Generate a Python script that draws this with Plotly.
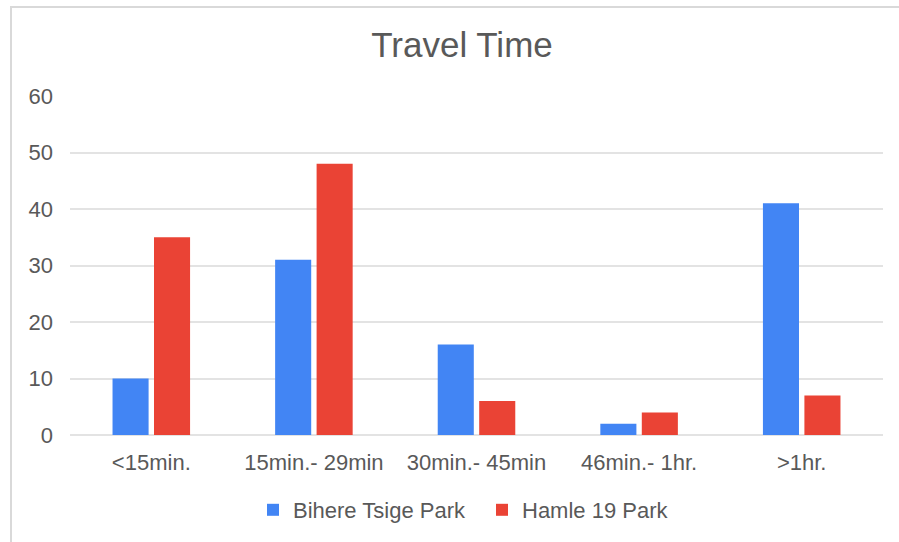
import plotly.graph_objects as go

categories = ["<15min.", "15min.- 29min", "30min.- 45min", "46min.- 1hr.", ">1hr."]
bihere_tsige = [10, 31, 16, 2, 41]
hamle_19 = [35, 48, 6, 4, 7]
y_ticks = [0, 10, 20, 30, 40, 50, 60]

W, H = 899, 542
L, R, T, B = 70, 16, 96, 107
pw, ph = W - L - R, H - T - B

def px_x(x):
    return (x - L) / pw

def px_y(y):
    return (H - B - y) / ph

txt = "#595959"
font = "Liberation Sans, Arial, sans-serif"

fig = go.Figure()
fig.add_trace(go.Bar(name="Bihere Tsige Park", x=categories, y=bihere_tsige,
                     marker=dict(color="#4285F4", line=dict(width=0))))
fig.add_trace(go.Bar(name="Hamle 19 Park", x=categories, y=hamle_19,
                     marker=dict(color="#EA4335", line=dict(width=0))))

fig.update_layout(
    width=W, height=H,
    margin=dict(l=L, r=R, t=T, b=B, autoexpand=False),
    paper_bgcolor="white", plot_bgcolor="white",
    barmode="group", bargap=0.49, bargroupgap=0.13,
    font=dict(family=font, color=txt, size=22),
    title=dict(text="Travel Time", x=px_x(462), xanchor="center", xref="paper",
               y=1 - 45 / H, yref="container", yanchor="middle",
               font=dict(size=35, color=txt, family=font)),
    xaxis=dict(showgrid=False, showline=False, zeroline=False, ticks="",
               tickfont=dict(size=22, color=txt), ticklabelstandoff=12),
    yaxis=dict(range=[0, 60], tickvals=y_ticks, showgrid=True, gridcolor="#e3e3e3",
               gridwidth=1.5, zeroline=True, zerolinecolor="#e3e3e3", zerolinewidth=1.5,
               showline=False, ticks="", tickfont=dict(size=22, color=txt),
               ticklabelstandoff=16),
    legend=dict(orientation="h", x=px_x(253), xanchor="left", y=px_y(510), yanchor="middle",
                font=dict(size=22, color=txt), itemwidth=30, traceorder="normal",
                entrywidth=184, entrywidthmode="pixels"),
    showlegend=True,
)

border = "#d9d9d9"
fig.add_shape(type="line", xref="paper", yref="paper",
              x0=px_x(10), x1=px_x(W), y0=px_y(7), y1=px_y(7),
              line=dict(color=border, width=2))
fig.add_shape(type="line", xref="paper", yref="paper",
              x0=px_x(11), x1=px_x(11), y0=px_y(6), y1=px_y(H),
              line=dict(color=border, width=2))

fig.write_html("out.html", config={"displayModeBar": False},
               post_script="document.body.style.margin='0';document.body.style.overflow='hidden';")
